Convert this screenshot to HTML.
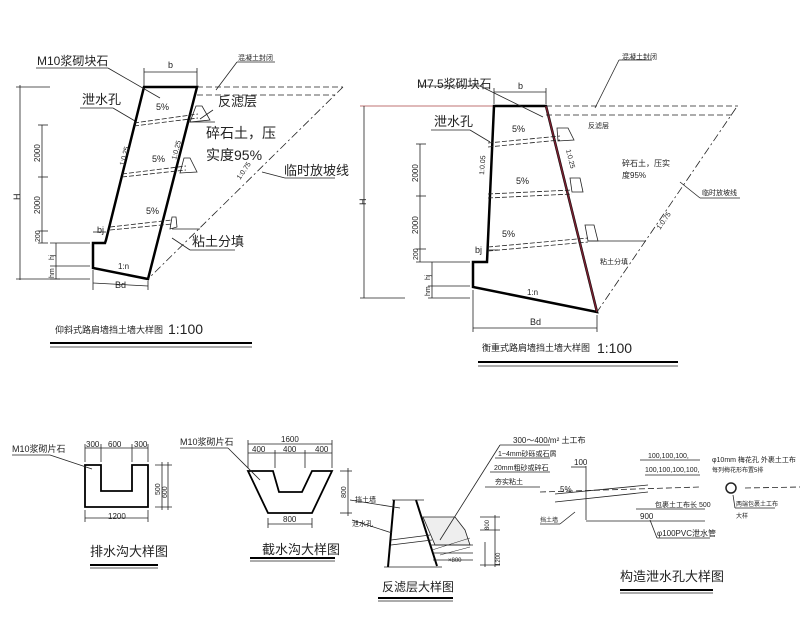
<!DOCTYPE html>
<html><head><meta charset="utf-8"><style>
html,body{margin:0;padding:0;background:#fff;}
svg{display:block;font-family:"Liberation Sans","Noto Sans CJK SC",sans-serif;}
</style></head><body>
<svg width="800" height="640" viewBox="0 0 800 640" xmlns="http://www.w3.org/2000/svg">
<g fill="none" stroke="#222" stroke-width="0.8">
<!-- LEFT WALL -->
<polygon points="144,87 197,87 148,279 93,268 93,243 105,243 106,240" stroke="#000" stroke-width="2.5"/>
<line x1="197" y1="87" x2="343" y2="87" stroke-dasharray="6,3"/>
<line x1="197" y1="95" x2="335" y2="95" stroke-dasharray="6,3"/>
<line x1="343" y1="87" x2="148" y2="279" stroke-dasharray="8,3,2,3"/>
<line x1="144" y1="72" x2="197" y2="72"/><line x1="144" y1="68" x2="144" y2="86"/><line x1="197" y1="68" x2="197" y2="86"/>
<line x1="20" y1="85" x2="20" y2="280"/><line x1="16" y1="87" x2="50" y2="87"/><line x1="16" y1="279" x2="60" y2="279"/>
<line x1="42" y1="125" x2="42" y2="243"/><line x1="38" y1="125" x2="48" y2="125"/><line x1="38" y1="177" x2="48" y2="177"/><line x1="38" y1="231" x2="48" y2="231"/><line x1="38" y1="243" x2="48" y2="243"/>
<line x1="50" y1="243" x2="90" y2="243"/><line x1="50" y1="266" x2="90" y2="266"/><line x1="50" y1="279" x2="90" y2="279"/><line x1="56" y1="243" x2="56" y2="279"/>
<line x1="93" y1="283" x2="148" y2="286"/><line x1="93" y1="270" x2="93" y2="290"/><line x1="148" y1="281" x2="148" y2="290"/>
<line x1="93" y1="232" x2="106" y2="232"/>
<line x1="134" y1="123" x2="198" y2="114" stroke-dasharray="5,2"/><line x1="134" y1="126" x2="198" y2="118" stroke-dasharray="5,2"/>
<line x1="122" y1="174" x2="186" y2="166" stroke-dasharray="5,2"/><line x1="122" y1="177" x2="186" y2="170" stroke-dasharray="5,2"/>
<line x1="110" y1="227" x2="172" y2="220" stroke-dasharray="5,2"/><line x1="110" y1="230" x2="172" y2="224" stroke-dasharray="5,2"/>
<polygon points="196,106 202,106 210,120 190,122"/><polygon points="184,158 190,158 197,172 180,173"/><polygon points="172,217 176,217 177,227 170,229"/>
<line x1="172" y1="229" x2="200" y2="229"/><line x1="190" y1="122" x2="215" y2="122"/>
<line x1="36" y1="68" x2="108" y2="68"/><line x1="108" y1="68" x2="160" y2="98"/>
<line x1="80" y1="108" x2="113" y2="108"/><line x1="113" y1="108" x2="135" y2="121"/>
<line x1="213" y1="110" x2="200" y2="119"/>
<line x1="237" y1="62" x2="275" y2="62"/><line x1="237" y1="62" x2="216" y2="90"/>
<line x1="262" y1="172" x2="285" y2="178"/><line x1="285" y1="178" x2="335" y2="178"/>
<line x1="172" y1="238" x2="190" y2="250"/><line x1="190" y1="250" x2="235" y2="250"/>
<line x1="50" y1="343" x2="252" y2="343" stroke="#000" stroke-width="2"/><line x1="50" y1="347" x2="252" y2="347"/>
<!-- RIGHT WALL -->
<line x1="360" y1="106" x2="494" y2="106" stroke="#a44"/>
<polygon points="494,106 546,106 597,312 473,287 473,262 487,262" stroke="#000" stroke-width="2.5"/>
<line x1="546" y1="106" x2="597" y2="312" stroke="#7a2030" stroke-width="1.5"/>
<line x1="546" y1="106" x2="738" y2="106" stroke-dasharray="6,3"/>
<line x1="546" y1="115" x2="733" y2="115" stroke-dasharray="6,3"/>
<line x1="736" y1="108" x2="597" y2="312" stroke-dasharray="8,3,2,3"/>
<line x1="494" y1="92" x2="546" y2="92"/><line x1="494" y1="88" x2="494" y2="104"/><line x1="546" y1="88" x2="546" y2="104"/>
<line x1="364" y1="106" x2="364" y2="298"/><line x1="360" y1="298" x2="405" y2="298"/>
<line x1="420" y1="144" x2="420" y2="262"/><line x1="416" y1="144" x2="426" y2="144"/><line x1="416" y1="196" x2="426" y2="196"/><line x1="416" y1="249" x2="426" y2="249"/><line x1="416" y1="262" x2="470" y2="262"/>
<line x1="432" y1="262" x2="432" y2="298"/><line x1="428" y1="286" x2="470" y2="286"/><line x1="428" y1="298" x2="470" y2="298"/>
<line x1="473" y1="328" x2="597" y2="328"/><line x1="473" y1="290" x2="473" y2="332"/><line x1="597" y1="315" x2="597" y2="332"/>
<line x1="488" y1="250" x2="498" y2="250"/>
<line x1="488" y1="143" x2="560" y2="136" stroke-dasharray="5,2"/><line x1="488" y1="147" x2="560" y2="140" stroke-dasharray="5,2"/>
<line x1="488" y1="194" x2="572" y2="190" stroke-dasharray="5,2"/><line x1="488" y1="198" x2="572" y2="194" stroke-dasharray="5,2"/>
<line x1="488" y1="247" x2="588" y2="238" stroke-dasharray="5,2"/><line x1="488" y1="251" x2="588" y2="242" stroke-dasharray="5,2"/>
<polygon points="557,128 568,128 574,140 558,141"/><polygon points="570,178 580,178 583,192 572,192"/><polygon points="585,225 594,225 598,241 588,241"/>
<line x1="588" y1="241" x2="646" y2="241"/>
<line x1="418" y1="86" x2="480" y2="86"/><line x1="480" y1="86" x2="543" y2="117"/>
<line x1="431" y1="130" x2="470" y2="130"/><line x1="470" y1="130" x2="490" y2="142"/>
<line x1="619" y1="60" x2="652" y2="60"/><line x1="619" y1="60" x2="595" y2="108"/>
<line x1="680" y1="182" x2="700" y2="198"/><line x1="700" y1="198" x2="740" y2="198"/>
<line x1="478" y1="362" x2="678" y2="362" stroke="#000" stroke-width="2"/><line x1="478" y1="366" x2="678" y2="366"/>
<!-- U DITCH -->
<polygon points="85,465 101,465 101,491 132,491 132,465 148,465 148,507 85,507" stroke="#000" stroke-width="1.8"/>
<line x1="85" y1="448" x2="148" y2="448"/><line x1="85" y1="444" x2="85" y2="462"/><line x1="101" y1="444" x2="101" y2="462"/><line x1="132" y1="444" x2="132" y2="462"/><line x1="148" y1="444" x2="148" y2="462"/>
<line x1="85" y1="518" x2="148" y2="518"/><line x1="85" y1="510" x2="85" y2="522"/><line x1="148" y1="510" x2="148" y2="522"/>
<line x1="155" y1="465" x2="172" y2="465"/><line x1="155" y1="507" x2="172" y2="507"/><line x1="162" y1="462" x2="162" y2="510"/><line x1="168" y1="462" x2="168" y2="510"/>
<line x1="12" y1="455" x2="50" y2="455"/><line x1="50" y1="455" x2="92" y2="469"/>
<line x1="90" y1="565" x2="158" y2="565" stroke="#000" stroke-width="2"/><line x1="90" y1="568" x2="158" y2="568"/>
<!-- TRAP DITCH -->
<polygon points="248,471 273,471 279,492 302,492 312,471 332,471 312,513 268,513" stroke="#000" stroke-width="1.8"/>
<line x1="248" y1="444" x2="332" y2="444"/><line x1="248" y1="453" x2="332" y2="453"/>
<line x1="248" y1="440" x2="248" y2="468"/><line x1="275" y1="450" x2="275" y2="468"/><line x1="305" y1="450" x2="305" y2="468"/><line x1="332" y1="440" x2="332" y2="468"/>
<line x1="268" y1="524" x2="312" y2="524"/><line x1="268" y1="518" x2="268" y2="528"/><line x1="312" y1="518" x2="312" y2="528"/>
<line x1="340" y1="471" x2="352" y2="471"/><line x1="340" y1="513" x2="352" y2="513"/><line x1="348" y1="468" x2="348" y2="516"/>
<line x1="180" y1="448" x2="228" y2="448"/><line x1="228" y1="448" x2="260" y2="480"/>
<line x1="250" y1="558" x2="335" y2="558" stroke="#000" stroke-width="2"/><line x1="250" y1="561" x2="335" y2="561"/>
<!-- FILTER DETAIL -->
<line x1="394" y1="500" x2="388" y2="567" stroke="#000" stroke-width="2"/>
<line x1="416" y1="500" x2="437" y2="566" stroke="#000" stroke-width="2"/>
<line x1="384" y1="567" x2="442" y2="567"/><line x1="392" y1="500" x2="424" y2="500"/>
<line x1="391" y1="540" x2="430" y2="535"/><line x1="391" y1="545" x2="432" y2="540"/>
<polygon points="423,517 455,517 465,530 470,545 435,545" fill="#eee"/>
<line x1="430" y1="545" x2="473" y2="545"/><line x1="433" y1="553" x2="473" y2="553"/><line x1="433" y1="560" x2="473" y2="560"/>
<line x1="432" y1="550" x2="470" y2="538" stroke-width="0.5"/><line x1="440" y1="555" x2="470" y2="547" stroke-width="0.5"/>
<line x1="480" y1="517" x2="500" y2="517"/><line x1="480" y1="530" x2="500" y2="530"/><line x1="480" y1="565" x2="500" y2="565"/><line x1="495" y1="515" x2="495" y2="567"/><line x1="485" y1="542" x2="485" y2="567"/>
<line x1="440" y1="540" x2="500" y2="445"/>
<line x1="500" y1="445" x2="550" y2="445"/><line x1="495" y1="458" x2="550" y2="458"/><line x1="490" y1="472" x2="550" y2="472"/><line x1="485" y1="487" x2="540" y2="487"/>
<line x1="350" y1="500" x2="400" y2="508"/><line x1="352" y1="520" x2="392" y2="533"/>
<line x1="378" y1="598" x2="453" y2="598" stroke="#000" stroke-width="2"/><line x1="378" y1="601" x2="453" y2="601"/>
<!-- DRAIN HOLE DETAIL -->
<line x1="540" y1="492" x2="700" y2="487" stroke-dasharray="6,3"/>
<line x1="555" y1="494" x2="648" y2="485"/><line x1="555" y1="502" x2="648" y2="492"/>
<line x1="640" y1="460" x2="700" y2="460"/><line x1="645" y1="475" x2="700" y2="475"/>
<line x1="586" y1="466" x2="586" y2="520"/><line x1="571" y1="467" x2="586" y2="467"/>
<line x1="636" y1="509" x2="705" y2="509"/><line x1="586" y1="521" x2="705" y2="521"/>
<circle cx="731" cy="488" r="5" stroke-width="1.5"/><line x1="745" y1="488" x2="800" y2="487" stroke-dasharray="6,3"/>
<line x1="540" y1="524" x2="560" y2="524"/><line x1="560" y1="524" x2="575" y2="512"/>
<line x1="650" y1="520" x2="657" y2="538"/><line x1="657" y1="538" x2="710" y2="538"/>
<line x1="733" y1="495" x2="735" y2="508"/><line x1="735" y1="508" x2="775" y2="508"/>
<line x1="620" y1="590" x2="713" y2="590" stroke="#000" stroke-width="2"/><line x1="620" y1="593" x2="713" y2="593"/>
</g>
<g fill="#222" font-size="11">
<text x="37" y="65" font-size="12">M10浆砌块石</text>
<text x="82" y="104" font-size="13">泄水孔</text>
<text x="218" y="106" font-size="13">反滤层</text>
<text x="206" y="138" font-size="14">碎石土，压</text>
<text x="206" y="160" font-size="14">实度95%</text>
<text x="284" y="175" font-size="13">临时放坡线</text>
<text x="192" y="246" font-size="13">粘土分填</text>
<text x="238" y="60" font-size="7">混凝土封闭</text>
<text x="168" y="68" font-size="9">b</text>
<text x="156" y="110" font-size="9">5%</text>
<text x="152" y="162" font-size="9">5%</text>
<text x="146" y="214" font-size="9">5%</text>
<text x="97" y="233" font-size="9">bj</text>
<text x="118" y="269" font-size="8">1:n</text>
<text x="115" y="288" font-size="9">Bd</text>
<text x="20" y="200" font-size="9" transform="rotate(-90 20 200)">H</text>
<text x="40" y="162" font-size="8" transform="rotate(-90 40 162)">2000</text>
<text x="40" y="214" font-size="8" transform="rotate(-90 40 214)">2000</text>
<text x="40" y="242" font-size="7" transform="rotate(-90 40 242)">200</text>
<text x="54" y="260" font-size="7" transform="rotate(-90 54 260)">hj</text>
<text x="54" y="278" font-size="7" transform="rotate(-90 54 278)">hm</text>
<text x="124" y="166" font-size="7" transform="rotate(-75 124 166)">1:0.25</text>
<text x="176" y="160" font-size="7" transform="rotate(-75 176 160)">1:0.25</text>
<text x="240" y="180" font-size="7" transform="rotate(-55 240 180)">1:0.75</text>
<text x="55" y="333" font-size="9">仰斜式路肩墙挡土墙大样图</text><text x="168" y="334" font-size="14">1:100</text>
<text x="417" y="88" font-size="12">M7.5浆砌块石</text>
<text x="434" y="126" font-size="13">泄水孔</text>
<text x="518" y="89" font-size="9">b</text>
<text x="622" y="59" font-size="7">混凝土封闭</text>
<text x="588" y="128" font-size="7">反滤层</text>
<text x="622" y="166" font-size="8">碎石土，压实</text>
<text x="622" y="178" font-size="8">度95%</text>
<text x="702" y="195" font-size="7">临时放坡线</text>
<text x="600" y="264" font-size="7">粘土分填</text>
<text x="512" y="132" font-size="9">5%</text>
<text x="516" y="184" font-size="9">5%</text>
<text x="502" y="237" font-size="9">5%</text>
<text x="475" y="253" font-size="9">bj</text>
<text x="527" y="295" font-size="8">1:n</text>
<text x="530" y="325" font-size="9">Bd</text>
<text x="366" y="205" font-size="9" transform="rotate(-90 366 205)">H</text>
<text x="418" y="182" font-size="8" transform="rotate(-90 418 182)">2000</text>
<text x="418" y="234" font-size="8" transform="rotate(-90 418 234)">2000</text>
<text x="418" y="260" font-size="7" transform="rotate(-90 418 260)">200</text>
<text x="430" y="280" font-size="7" transform="rotate(-90 430 280)">hj</text>
<text x="430" y="296" font-size="7" transform="rotate(-90 430 296)">hm</text>
<text x="484" y="175" font-size="7" transform="rotate(-86 484 175)">1:0.05</text>
<text x="566" y="150" font-size="7" transform="rotate(76 566 150)">1:0.25</text>
<text x="660" y="230" font-size="7" transform="rotate(-55 660 230)">1:0.75</text>
<text x="482" y="351" font-size="9">衡重式路肩墙挡土墙大样图</text><text x="597" y="353" font-size="14">1:100</text>
<text x="12" y="452" font-size="9">M10浆砌片石</text>
<text x="86" y="447" font-size="8">300</text><text x="108" y="447" font-size="8">600</text><text x="134" y="447" font-size="8">300</text>
<text x="108" y="519" font-size="8">1200</text>
<text x="160" y="495" font-size="7" transform="rotate(-90 160 495)">500</text>
<text x="167" y="498" font-size="7" transform="rotate(-90 167 498)">600</text>
<text x="90" y="556" font-size="13">排水沟大样图</text>
<text x="180" y="445" font-size="9">M10浆砌片石</text>
<text x="281" y="442" font-size="8">1600</text>
<text x="252" y="452" font-size="8">400</text><text x="283" y="452" font-size="8">400</text><text x="315" y="452" font-size="8">400</text>
<text x="283" y="522" font-size="8">800</text>
<text x="346" y="498" font-size="7" transform="rotate(-90 346 498)">800</text>
<text x="262" y="554" font-size="13">截水沟大样图</text>
<text x="355" y="502" font-size="7">挡土墙</text>
<text x="352" y="526" font-size="7">泄水孔</text>
<text x="448" y="562" font-size="6">×800</text>
<text x="489" y="530" font-size="6" transform="rotate(-90 489 530)">800</text>
<text x="500" y="566" font-size="6" transform="rotate(-90 500 566)">1200</text>
<text x="382" y="591" font-size="12">反滤层大样图</text>
<text x="513" y="443" font-size="8">300～400/m² 土工布</text>
<text x="498" y="456" font-size="7">1~4mm砂砾或石屑</text>
<text x="494" y="470" font-size="7">20mm粗砂或碎石</text>
<text x="495" y="484" font-size="7">夯实粘土</text>
<text x="560" y="492" font-size="8">5%</text>
<text x="574" y="465" font-size="8">100</text>
<text x="648" y="458" font-size="7">100,100,100,</text>
<text x="645" y="472" font-size="7">100,100,100,100,</text>
<text x="655" y="507" font-size="7">包裹土工布长 500</text>
<text x="640" y="519" font-size="8">900</text>
<text x="657" y="536" font-size="8">φ100PVC泄水管</text>
<text x="712" y="462" font-size="7">φ10mm 梅花孔 外裹土工布</text>
<text x="712" y="472" font-size="6">每列梅花形布置5排</text>
<text x="736" y="506" font-size="6">两端包裹土工布</text>
<text x="736" y="518" font-size="6">大样</text>
<text x="540" y="522" font-size="6">挡土墙</text>
<text x="620" y="581" font-size="13">构造泄水孔大样图</text>
</g>
</svg>
</body></html>
